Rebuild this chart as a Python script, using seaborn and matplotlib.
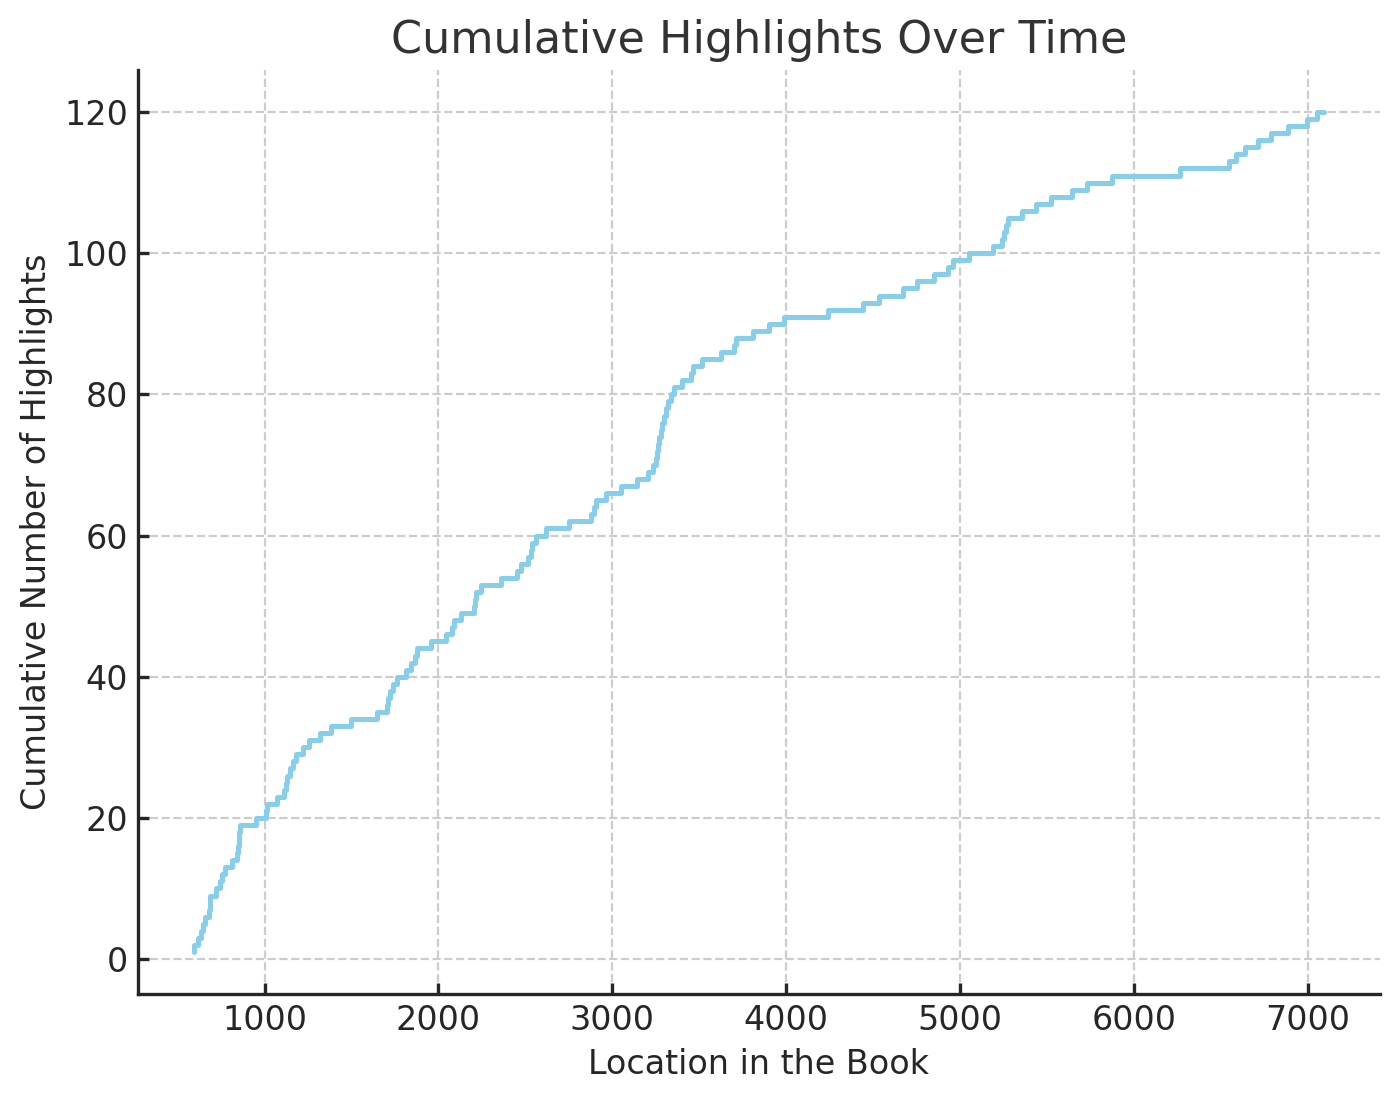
import matplotlib
matplotlib.use("Agg")
import matplotlib.pyplot as plt
import seaborn as sns
import numpy as np

# locations of each highlight, sorted
locations = [
    597, 616, 637, 647, 660, 680, 685, 689, 718, 743,
    756, 772, 814, 839, 845, 851, 854, 858, 948, 1011,
    1015, 1069, 1111, 1121, 1131, 1146, 1165, 1178, 1223, 1255,
    1318, 1380, 1495, 1644, 1702, 1710, 1721, 1740, 1759, 1811,
    1842, 1864, 1878, 1955, 2041, 2080, 2089, 2128, 2204, 2210,
    2218, 2243, 2358, 2450, 2473, 2512, 2531, 2540, 2559, 2617,
    2748, 2876, 2897, 2908, 2962, 3048, 3144, 3202, 3231, 3250,
    3256, 3263, 3269, 3278, 3288, 3297, 3307, 3317, 3336, 3355,
    3403, 3451, 3461, 3518, 3624, 3700, 3710, 3806, 3902, 3988,
    4238, 4439, 4535, 4669, 4751, 4851, 4928, 4957, 5052, 5187,
    5240, 5250, 5264, 5277, 5354, 5436, 5524, 5642, 5730, 5872,
    6264, 6548, 6587, 6635, 6715, 6788, 6884, 6995, 7053, 7089,
]
cumulative = list(range(1, len(locations) + 1))

sns.set_style("ticks")
plt.rcParams['font.family'] = ['DejaVu Sans']

fig = plt.figure(figsize=(6.985, 5.505), dpi=200)
ax = fig.add_axes([0.0988, 0.0972, 0.889, 0.8392])

sns.lineplot(x=locations, y=cumulative, estimator=None, drawstyle='steps-pre',
             color='skyblue', linewidth=1.8, ax=ax)

ax.grid(True, linestyle='--', color='#cccccc', linewidth=0.8)
ax.set_axisbelow(True)
ax.tick_params(direction='in', labelsize=12, colors='#262626', length=4, width=1.2)
for s in ['left', 'bottom']:
    ax.spines[s].set_color('#262626')
    ax.spines[s].set_linewidth(1.2)
sns.despine(ax=ax)

ax.set_title('Cumulative Highlights Over Time', fontsize=16, color='#333333')
ax.set_xlabel('Location in the Book', fontsize=12, color='#262626')
ax.set_ylabel('Cumulative Number of Highlights', fontsize=12, color='#262626')

fig.savefig('out.png', dpi=200)
